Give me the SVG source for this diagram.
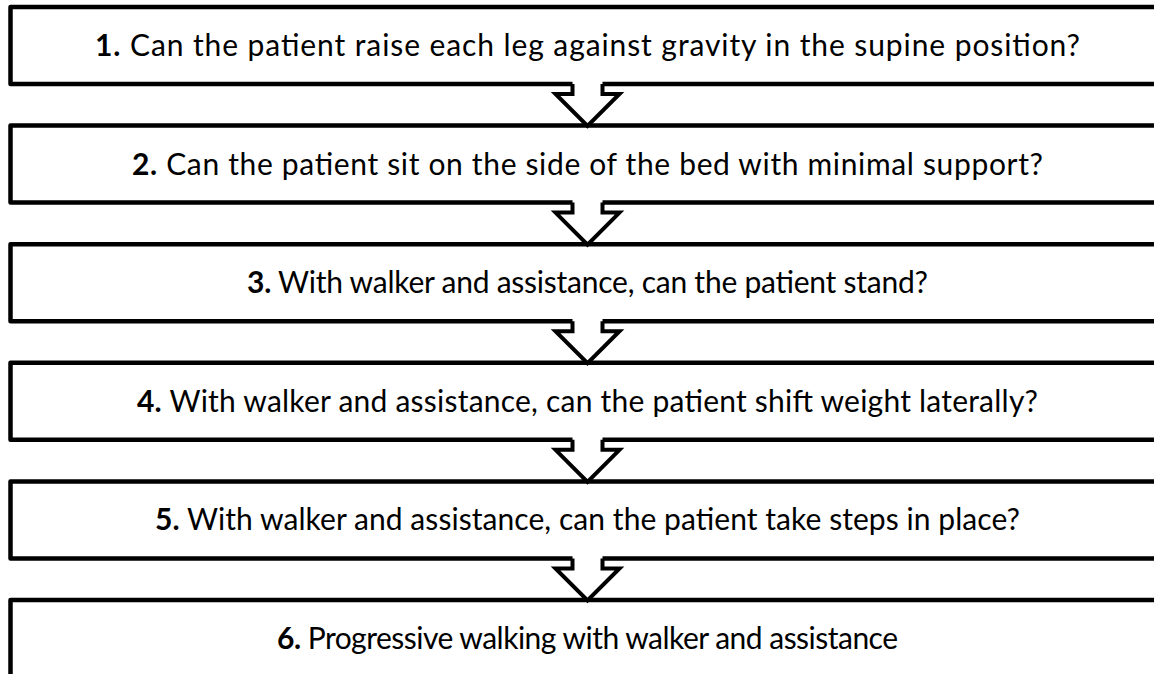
<svg xmlns="http://www.w3.org/2000/svg" width="1154" height="674" viewBox="0 0 1154 674">
<style>
.box{fill:#fff;stroke:#000;stroke-width:4.5;stroke-linejoin:round}
.t{font-family:Lato,"Liberation Sans",sans-serif;font-size:30px;fill:#000;text-anchor:middle}
.b{font-weight:bold}
.af{fill:#fff;stroke:none}
.as{fill:none;stroke:#000;stroke-width:4;stroke-linejoin:miter}
</style>
<rect width="1154" height="674" fill="#fff"/>
<g id="n1"><rect class="box" x="10.5" y="7" width="1160" height="77"/><text class="t" x="587.5" y="56" textLength="985" lengthAdjust="spacing"><tspan class="b">1.</tspan> Can the patient raise each leg against gravity in the supine position?</text></g>
<g id="n2"><rect class="box" x="10.5" y="125.6" width="1160" height="77"/><text class="t" x="587.5" y="174.6" textLength="911" lengthAdjust="spacing"><tspan class="b">2.</tspan> Can the patient sit on the side of the bed with minimal support?</text></g>
<g id="n3"><rect class="box" x="10.5" y="244.2" width="1160" height="77"/><text class="t" x="587.5" y="293.2" textLength="681" lengthAdjust="spacing"><tspan class="b">3.</tspan> With walker and assistance, can the patient stand?</text></g>
<g id="n4"><rect class="box" x="10.5" y="362.8" width="1160" height="77"/><text class="t" x="587.5" y="411.8" textLength="901" lengthAdjust="spacing"><tspan class="b">4.</tspan> With walker and assistance, can the patient shift weight laterally?</text></g>
<g id="n5"><rect class="box" x="10.5" y="481.4" width="1160" height="77"/><text class="t" x="587.5" y="530.4" textLength="865" lengthAdjust="spacing"><tspan class="b">5.</tspan> With walker and assistance, can the patient take steps in place?</text></g>
<g id="n6"><rect class="box" x="10.5" y="600" width="1160" height="77"/><text class="t" x="587.5" y="649" textLength="621" lengthAdjust="spacing"><tspan class="b">6.</tspan> Progressive walking with walker and assistance</text></g>
<g id="connectors">
<g transform="translate(0,0)"><polygon class="af" points="572.5,80 572.5,94 555.5,94 587.5,126 619.5,94 602.5,94 602.5,80"/><polyline class="as" points="572.5,84 572.5,94 555.5,94 587.5,126 619.5,94 602.5,94 602.5,84"/></g>
<g transform="translate(0,118.6)"><polygon class="af" points="572.5,80 572.5,94 555.5,94 587.5,126 619.5,94 602.5,94 602.5,80"/><polyline class="as" points="572.5,84 572.5,94 555.5,94 587.5,126 619.5,94 602.5,94 602.5,84"/></g>
<g transform="translate(0,237.2)"><polygon class="af" points="572.5,80 572.5,94 555.5,94 587.5,126 619.5,94 602.5,94 602.5,80"/><polyline class="as" points="572.5,84 572.5,94 555.5,94 587.5,126 619.5,94 602.5,94 602.5,84"/></g>
<g transform="translate(0,355.8)"><polygon class="af" points="572.5,80 572.5,94 555.5,94 587.5,126 619.5,94 602.5,94 602.5,80"/><polyline class="as" points="572.5,84 572.5,94 555.5,94 587.5,126 619.5,94 602.5,94 602.5,84"/></g>
<g transform="translate(0,474.4)"><polygon class="af" points="572.5,80 572.5,94 555.5,94 587.5,126 619.5,94 602.5,94 602.5,80"/><polyline class="as" points="572.5,84 572.5,94 555.5,94 587.5,126 619.5,94 602.5,94 602.5,84"/></g>
</g>
</svg>
